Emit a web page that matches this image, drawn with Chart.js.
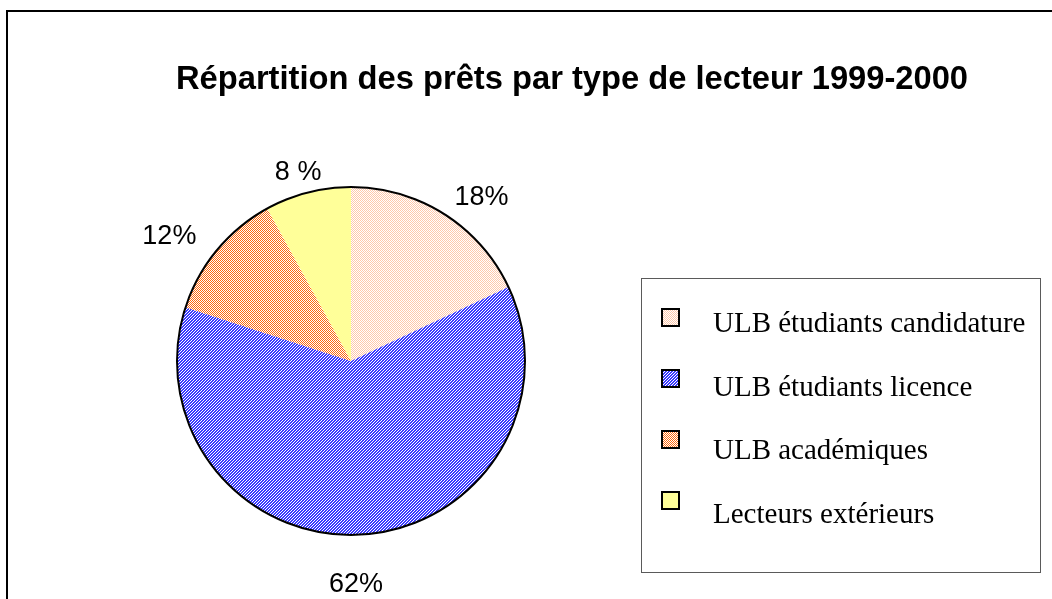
<!DOCTYPE html>
<html>
<head>
<meta charset="utf-8">
<script src="https://cdn.jsdelivr.net/npm/chart.js@4.4.1/dist/chart.umd.min.js"></script>
<style>
  html, body { margin: 0; padding: 0; background: #ffffff; }
  #wrap { width: 1052px; height: 599px; position: relative; }
</style>
</head>
<body>
<div id="wrap"><canvas id="c" width="1052" height="599"></canvas></div>
<script>
// ---- data ----
const chartTitle = 'Répartition des prêts par type de lecteur 1999-2000';
const categories = ['ULB étudiants candidature', 'ULB étudiants licence', 'ULB académiques', 'Lecteurs extérieurs'];
const values = [18, 62, 12, 8];
const valueLabels = ['18%', '62%', '12%', '8 %'];

// ---- label layout (distance beyond the rim, sideways shift) ----
const labelGap = [35, 48, 46, 23];
const labelShift = [22, 9, -19, -4];

// ---- fill patterns ----
function makePattern(size, painter) {
  const c = document.createElement('canvas');
  c.width = size; c.height = size;
  const g = c.getContext('2d');
  g.fillStyle = '#ffffff';
  g.fillRect(0, 0, size, size);
  painter(g, size);
  return g.createPattern(c, 'repeat');
}
const ctx0 = document.getElementById('c').getContext('2d');
const pinkPat = makePattern(2, (g) => { g.fillStyle = '#ffc8aa'; g.fillRect(0, 0, 1, 1); g.fillRect(1, 1, 1, 1); });
const bluePat = makePattern(3, (g) => {
  g.fillStyle = '#3a3aff';
  for (let y = 0; y < 3; y++) for (let x = 0; x < 3; x++) if ((x + y) % 3 !== 0) g.fillRect(x, y, 1, 1);
});
const orangePat = makePattern(2, (g) => { g.fillStyle = '#ff6a10'; g.fillRect(0, 0, 1, 1); g.fillRect(1, 1, 1, 1); });
const fills = [pinkPat, bluePat, orangePat, '#ffff99'];

const decor = {
  id: 'decor',
  afterDraw(chart) {
    const ctx = chart.ctx;
    const meta = chart.getDatasetMeta(0);
    const a0 = meta.data[0];
    const cx = a0.x, cy = a0.y, r = a0.outerRadius;

    // pie outline
    ctx.save();
    ctx.beginPath();
    ctx.arc(cx, cy, r, 0, Math.PI * 2);
    ctx.lineWidth = 2;
    ctx.strokeStyle = '#000000';
    ctx.stroke();

    // percentage labels
    ctx.font = '27px "Liberation Sans", Arial, sans-serif';
    ctx.fillStyle = '#000000';
    ctx.textAlign = 'center';
    ctx.textBaseline = 'middle';
    meta.data.forEach((arc, i) => {
      const mid = (arc.startAngle + arc.endAngle) / 2;
      const dx = Math.cos(mid), dy = Math.sin(mid);
      const tx = -dy, ty = dx;
      const d = r + labelGap[i];
      const x = cx + dx * d + tx * labelShift[i];
      const y = cy + dy * d + ty * labelShift[i];
      ctx.fillText(valueLabels[i], x, y + 1);
    });

    // title
    ctx.font = 'bold 32.7px "Liberation Sans", Arial, sans-serif';
    ctx.textBaseline = 'alphabetic';
    ctx.fillText(chartTitle, 572, 89);

    // legend box
    ctx.lineWidth = 1;
    ctx.strokeStyle = '#5a5a5a';
    ctx.strokeRect(641.5, 278.5, 399, 294);
    ctx.font = '29px "Liberation Serif", "Times New Roman", serif';
    ctx.textAlign = 'left';
    categories.forEach((lab, i) => {
      const sy = 309 + i * 61;
      ctx.fillStyle = fills[i];
      ctx.fillRect(662, sy, 17, 17);
      ctx.lineWidth = 2;
      ctx.strokeStyle = '#000000';
      ctx.strokeRect(662, sy, 17, 17);
      ctx.fillStyle = '#000000';
      ctx.fillText(lab, 713, 332 + i * 63.7);
    });

    // outer frame (partially visible)
    ctx.lineWidth = 2;
    ctx.strokeStyle = '#000000';
    ctx.beginPath();
    ctx.moveTo(7, 605);
    ctx.lineTo(7, 11);
    ctx.lineTo(1060, 11);
    ctx.stroke();
    ctx.restore();
  }
};

new Chart(document.getElementById('c'), {
  type: 'pie',
  data: {
    labels: categories,
    datasets: [{
      data: values,
      backgroundColor: fills,
      borderWidth: 0,
      hoverOffset: 0
    }]
  },
  options: {
    responsive: false,
    animation: false,
    devicePixelRatio: 1,
    layout: { padding: { left: 177, right: 527, top: 187, bottom: 64 } },
    plugins: {
      legend: { display: false },
      tooltip: { enabled: false },
      title: { display: false }
    }
  },
  plugins: [decor]
});
</script>
</body>
</html>
